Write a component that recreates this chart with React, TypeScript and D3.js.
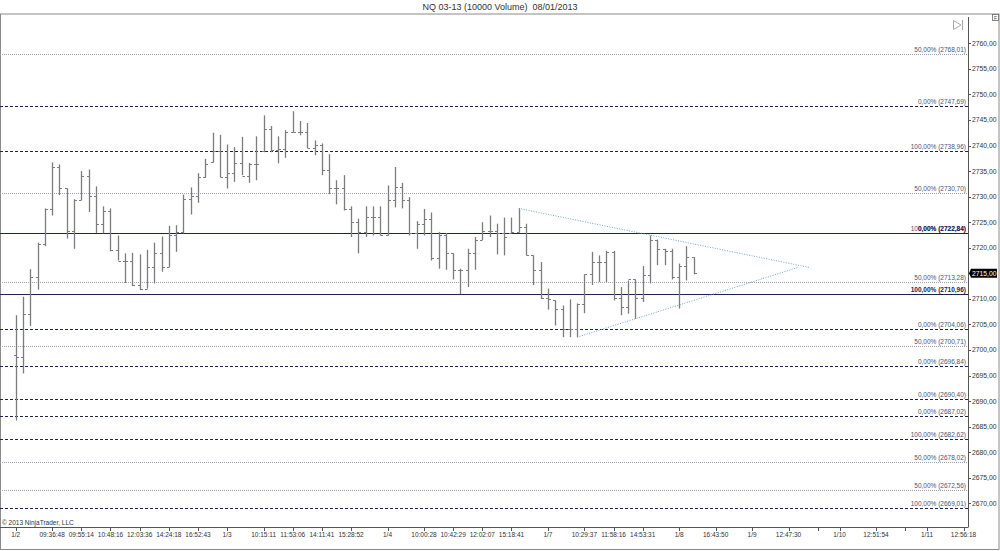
import React from "react";
import * as d3 from "d3";

const W = 1000;
const H = 551;

const highs = [2706.8, 2710.4, 2715.8, 2721.0, 2727.7, 2736.7, 2736.3, 2731.6, 2729.5, 2735.0,
  2735.3, 2732.0, 2728.1, 2727.7, 2722.4, 2718.9, 2719.0, 2718.7, 2719.6, 2721.0,
  2722.2, 2724.3, 2724.4, 2730.4, 2731.8, 2734.6, 2737.4, 2742.5, 2742.1, 2740.2,
  2739.7, 2741.7, 2736.6, 2741.8, 2745.9, 2743.8, 2741.8, 2743.0, 2746.7, 2744.8,
  2744.4, 2741.0, 2740.4, 2738.3, 2733.2, 2734.2, 2728.1, 2725.7, 2728.1, 2728.1,
  2728.1, 2732.2, 2735.8, 2732.7, 2729.9, 2725.2, 2727.6, 2726.9, 2723.1, 2722.9,
  2718.9, 2715.9, 2719.8, 2722.1, 2725.0, 2726.3, 2724.7, 2725.9, 2725.9, 2727.7,
  2724.7, 2718.5, 2717.2, 2712.0, 2709.7, 2708.7, 2709.9, 2709.1, 2714.8, 2719.2,
  2718.5, 2719.4, 2719.4, 2712.3, 2713.6, 2713.8, 2716.4, 2722.4, 2721.6, 2719.8,
  2719.8, 2716.9, 2720.3, 2718.1];

const lows = [2686.2, 2695.4, 2704.7, 2711.8, 2720.3, 2726.3, 2730.3, 2721.8, 2719.8, 2729.3,
  2727.0, 2722.9, 2722.8, 2719.3, 2717.5, 2713.1, 2712.5, 2711.7, 2712.0, 2713.0,
  2715.3, 2716.2, 2719.2, 2722.8, 2726.5, 2728.8, 2733.7, 2736.7, 2733.8, 2731.6,
  2732.9, 2734.2, 2732.7, 2733.2, 2738.7, 2738.7, 2736.5, 2737.6, 2742.6, 2742.0,
  2739.5, 2738.1, 2734.2, 2730.5, 2728.5, 2727.3, 2722.1, 2718.9, 2722.1, 2722.4,
  2722.4, 2722.4, 2727.9, 2727.7, 2722.4, 2719.8, 2722.4, 2717.5, 2715.9, 2715.7,
  2713.8, 2710.9, 2712.3, 2715.7, 2721.5, 2722.1, 2718.7, 2718.5, 2722.8, 2723.0,
  2718.5, 2712.7, 2710.0, 2707.9, 2704.8, 2702.5, 2702.5, 2702.5, 2707.2, 2712.7,
  2713.3, 2713.3, 2709.7, 2706.8, 2707.1, 2706.1, 2709.4, 2713.0, 2716.6, 2716.6,
  2713.8, 2708.1, 2713.6, 2714.8];

const opens = [2699.0, 2698.6, 2707.1, 2714.2, 2720.8, 2727.6, 2735.8, 2731.6, 2723.3, 2729.3,
  2734.1, 2730.1, 2724.6, 2727.1, 2719.5, 2717.5, 2717.5, 2712.8, 2712.0, 2716.2,
  2719.0, 2716.2, 2722.5, 2723.1, 2729.5, 2730.1, 2733.9, 2736.7, 2738.9, 2733.8,
  2734.6, 2736.6, 2734.1, 2736.4, 2738.9, 2743.3, 2739.1, 2739.4, 2742.7, 2742.7,
  2742.7, 2739.5, 2740.1, 2735.3, 2731.6, 2731.6, 2727.5, 2725.0, 2723.1, 2726.1,
  2726.1, 2722.4, 2729.4, 2731.9, 2729.4, 2722.8, 2724.6, 2725.6, 2717.9, 2722.4,
  2718.9, 2715.6, 2715.6, 2718.9, 2721.5, 2723.3, 2723.3, 2722.9, 2722.8, 2723.1,
  2724.1, 2718.5, 2715.6, 2710.2, 2709.7, 2708.1, 2704.2, 2704.2, 2708.9, 2714.8,
  2717.2, 2717.2, 2719.2, 2710.2, 2708.4, 2713.8, 2710.2, 2714.6, 2721.5, 2719.8,
  2719.4, 2714.2, 2716.4, 2718.1];

const closes = [2698.6, 2707.1, 2714.2, 2720.8, 2727.6, 2735.8, 2731.6, 2723.3, 2729.3, 2734.1,
  2730.1, 2724.6, 2727.1, 2719.5, 2717.5, 2717.5, 2712.8, 2712.0, 2716.2, 2719.0,
  2716.2, 2722.5, 2723.1, 2729.5, 2730.1, 2733.9, 2736.4, 2738.9, 2733.8, 2734.6,
  2736.6, 2734.1, 2736.4, 2736.3, 2743.3, 2739.1, 2739.4, 2742.7, 2742.7, 2742.7,
  2739.5, 2740.1, 2735.3, 2731.6, 2731.6, 2727.5, 2725.0, 2723.1, 2726.1, 2726.1,
  2722.4, 2729.4, 2731.9, 2729.4, 2722.8, 2724.6, 2725.6, 2717.9, 2722.4, 2718.9,
  2715.6, 2715.6, 2718.9, 2721.5, 2723.3, 2723.3, 2722.9, 2722.1, 2723.1, 2724.1,
  2718.5, 2715.6, 2710.2, 2709.9, 2708.1, 2704.2, 2704.2, 2708.9, 2714.8, 2717.2,
  2717.2, 2719.2, 2710.2, 2708.4, 2713.8, 2710.2, 2714.6, 2721.5, 2719.8, 2719.4,
  2714.2, 2716.4, 2718.1, 2715.0];

const xTickIndex = [0, 5, 9, 13, 17, 21, 25, 29, 34, 38, 42, 46, 51, 56, 60, 64, 68, 73, 78, 82, 86, 91, 96, 101, 106, 110, 113, 118, 122, 125, 130];
const xTickLabels = ["1/2", "09:36:48", "09:55:14", "10:48:16", "12:03:36", "14:24:18", "16:52:43", "1/3", "10:15:11", "11:53:06", "14:11:41", "15:28:52", "1/4", "10:00:28", "10:42:29", "12:02:07", "15:18:41", "1/7", "10:29:37", "11:58:16", "14:53:31", "1/8", "16:43:50", "1/9", "12:47:30", "", "1/10", "12:51:54", "", "1/11", "12:56:18"];

const yTicks = [2670, 2675, 2680, 2685, 2690, 2695, 2700, 2705, 2710, 2715, 2720, 2725, 2730, 2735, 2740, 2745, 2750, 2755, 2760];

// Fibonacci level lines
const levelValues = [2757.85, 2747.69, 2738.96, 2730.70, 2722.84, 2722.84, 2713.28, 2710.96, 2704.06, 2700.71, 2696.84, 2690.40, 2687.02, 2682.62, 2678.02, 2672.56, 2669.01];
const levelLabels = ["50,00% (2768,01)", "0,00% (2747,69)", "100,00% (2738,96)", "50,00% (2730,70)", "100,00% (2722,84)", "0,00% (2722,84)", "50,00% (2713,28)", "100,00% (2710,96)", "0,00% (2704,06)", "50,00% (2700,71)", "0,00% (2696,84)", "0,00% (2690,40)", "0,00% (2687,02)", "100,00% (2682,62)", "50,00% (2678,02)", "50,00% (2672,56)", "100,00% (2669,01)"];
const levelKinds = ["dot", "dash", "dash", "dot", "dash", "solid", "dot", "solid", "dash", "dot", "dash", "dash", "dash", "dash", "dot", "dot", "dash"];

// triangle drawing: [index, price]
const triTop = [[69, 2727.7], [109.0, 2716.1]];
const triBottom = [[77, 2702.5], [107.2, 2716.1]];

const lastPrice = 2715.0;

const fmt = (v: number) => v.toFixed(2).replace(".", ",");

export default function App() {
  const axisX = 968;
  const axisY = 527;
  const x = d3.scaleLinear().domain([0, 130]).range([15.7, 963.5]);
  const y = d3.scaleLinear().domain([2670, 2760]).range([503.3, 43.3]);
  const font = "'Liberation Sans', Arial, sans-serif";
  const line = d3.line<number[]>().x((d) => x(d[0])).y((d) => y(d[1]));

  return (
    <div>
      <style>{`body{margin:0;}`}</style>
      <svg width={W} height={H} style={{ display: "block", background: "#fff" }} fontFamily={font}>
        <text x={500} y={10} textAnchor="middle" fontSize={9} fill="#333" style={{ whiteSpace: "pre" }}>NQ 03-13 (10000 Volume)  08/01/2013</text>
        <rect x={0.5} y={14} width={998.5} height={535.5} fill="none" stroke="#8a8a8a" strokeWidth={1} />
        {/* top right small box */}
        <rect x={992.5} y={14.5} width={6} height={6} fill="#fff" stroke="#666" strokeWidth={0.8} />
        <text x={995.5} y={19.5} textAnchor="middle" fontSize={5} fill="#444">F</text>
        {/* icon */}
        <path d="M953.5,20.5 L961,25 L953.5,29.5 Z" fill="none" stroke="#aaa" strokeWidth={1} />
        <line x1={962.5} y1={20} x2={962.5} y2={30} stroke="#aaa" strokeWidth={1.2} />

        {/* level lines */}
        {levelValues.map((v, i) => {
          const k = levelKinds[i];
          const yy = Math.round(y(v)) + 0.5;
          if (k === "dot")
            return <line key={"l" + i} x1={0} x2={axisX} y1={yy} y2={yy} stroke="#9ea4b4" strokeWidth={1.2} strokeDasharray="1,1" />;
          if (k === "dash")
            return <line key={"l" + i} x1={0} x2={axisX} y1={yy} y2={yy} stroke="#1c2452" strokeWidth={1.1} strokeDasharray="3,2" />;
          return <line key={"l" + i} x1={0} x2={axisX} y1={yy} y2={yy} stroke="#1c2452" strokeWidth={1.2} />;
        })}
        {levelValues.map((v, i) => {
          const bold = levelKinds[i] === "solid";
          return (
            <text key={"t" + i} x={axisX - 2} y={Math.round(y(v)) - 2} textAnchor="end" fontSize={6.5}
              fill={bold ? "#1c2452" : "#4a5478"} fontWeight={bold ? "bold" : "normal"}>{levelLabels[i]}</text>
          );
        })}

        {/* triangle */}
        <path d={line(triTop as number[][]) || ""} fill="none" stroke="#6aa6c4" strokeWidth={1} strokeDasharray="1,1.5" />
        <path d={line(triBottom as number[][]) || ""} fill="none" stroke="#6aa6c4" strokeWidth={1} strokeDasharray="1,1.5" />

        {/* OHLC bars */}
        {highs.map((h, i) => {
          const cx = Math.round(x(i)) + 0.5;
          return (
            <g key={"b" + i} stroke="#7c7c7c" strokeWidth={1.3}>
              <line x1={cx} x2={cx} y1={y(h)} y2={y(lows[i])} />
              <line x1={cx - 2.5} x2={cx} y1={Math.round(y(opens[i])) + 0.5} y2={Math.round(y(opens[i])) + 0.5} strokeWidth={1} />
              <line x1={cx} x2={cx + 2.5} y1={Math.round(y(closes[i])) + 0.5} y2={Math.round(y(closes[i])) + 0.5} strokeWidth={1} />
            </g>
          );
        })}

        {/* right axis */}
        <line x1={axisX + 0.5} x2={axisX + 0.5} y1={17} y2={axisY} stroke="#555" strokeWidth={1} />
        {yTicks.map((t) => (
          <g key={"y" + t}>
            <line x1={axisX} x2={axisX + 3} y1={Math.round(y(t)) + 0.5} y2={Math.round(y(t)) + 0.5} stroke="#555" />
            {t !== lastPrice && (
              <text x={axisX + 4} y={y(t) + 2.5} fontSize={6.8} fill="#333">{fmt(t)}</text>
            )}
          </g>
        ))}
        <path d={`M${axisX + 1},${y(lastPrice)} L${axisX + 3},${y(lastPrice) - 4.5} L${axisX + 29},${y(lastPrice) - 4.5} L${axisX + 29},${y(lastPrice) + 4.5} L${axisX + 3},${y(lastPrice) + 4.5} Z`} fill="#000" />
        <text x={axisX + 4} y={y(lastPrice) + 2.5} fontSize={6.8} fill="#fff">{fmt(lastPrice)}</text>

        {/* bottom axis */}
        <line x1={0} x2={axisX + 0.5} y1={axisY + 0.5} y2={axisY + 0.5} stroke="#555" strokeWidth={1} />
        {xTickIndex.map((t, i) => (
          <g key={"x" + i}>
            <line x1={Math.round(x(t)) + 0.5} x2={Math.round(x(t)) + 0.5} y1={axisY} y2={axisY + 4} stroke="#555" />
            <text x={x(t)} y={axisY + 10} textAnchor="middle" fontSize={6.5} fill="#333">{xTickLabels[i]}</text>
          </g>
        ))}
        <text x={2} y={axisY - 2.5} fontSize={6.5} fill="#333">© 2013 NinjaTrader, LLC</text>
      </svg>
    </div>
  );
}
